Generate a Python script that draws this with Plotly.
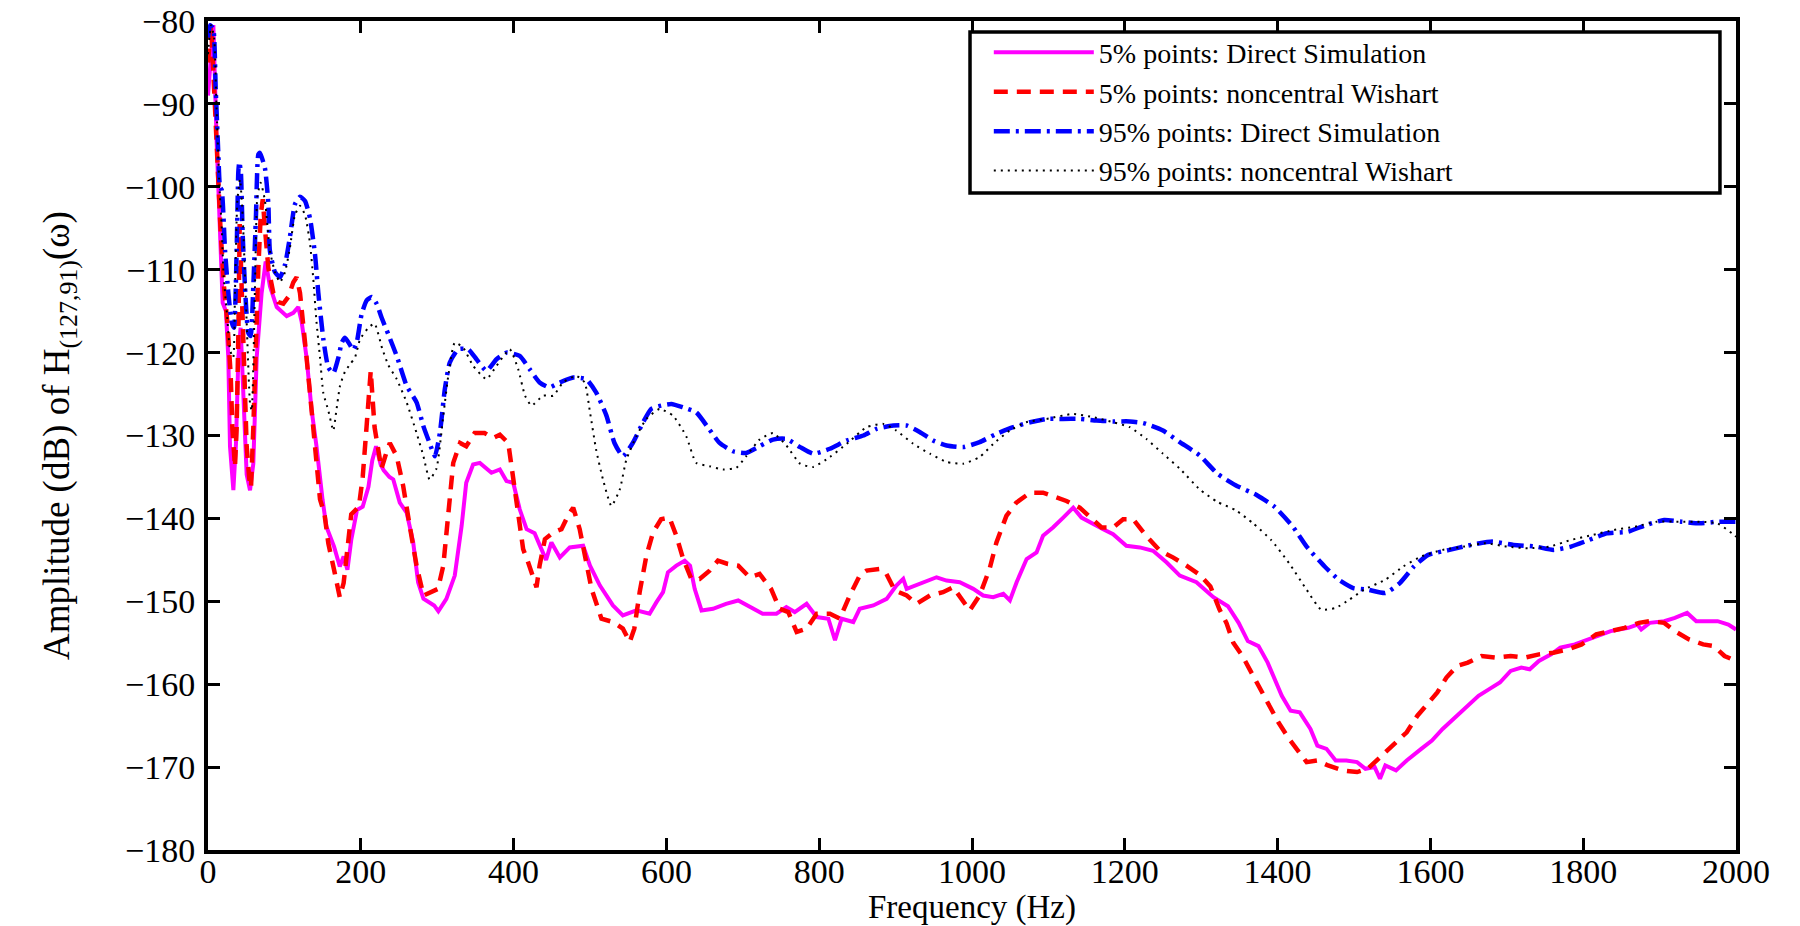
import plotly.graph_objects as go

# ---------------- data ----------------
freq_ds5 = [0, 7, 11.4, 13.5, 16.6, 19.2, 23.5, 26.6, 28.8, 33.2, 36.6, 39.7, 42.7, 46.2, 50.6, 55, 59.3, 63.7,
            70.2, 75.5, 81.1, 90, 103, 111.7, 118.2, 122.6, 129, 135.7, 142, 150, 155, 165, 172.5, 177.5, 182.5,
            187.5, 195, 202.5, 210, 215, 220, 226, 230, 237.5, 242.5, 251, 260, 268.6, 275, 282, 290, 296, 301.5,
            312, 323, 332, 338, 347, 355.8, 371, 382, 390.7, 399.5, 408, 417, 427.5, 435, 442.5, 449.5, 460.5,
            473.5, 491, 500, 513, 530, 543, 560.7, 578, 587, 595.6, 602, 613, 624, 631, 637, 646, 661, 678, 694,
            709, 726, 744, 757, 768, 783.5, 796.7, 812, 820.7, 829.4, 844.6, 853, 870.8, 888.3, 901, 910, 914.5,
            932, 953.6, 966.7, 984, 1001.6, 1014.6, 1027.7, 1041, 1049.6, 1058.4, 1071.5, 1084.5, 1093, 1106,
            1119.4, 1132.5, 1143.3, 1158.6, 1171.7, 1184.7, 1202, 1219.6, 1237, 1254.5, 1272, 1293.8, 1316, 1335,
            1349, 1361, 1375, 1387, 1396, 1405.5, 1417, 1429, 1443, 1452, 1464, 1476, 1490, 1504, 1515, 1527,
            1534, 1541, 1555, 1569, 1588, 1602, 1616, 1635, 1649, 1663, 1677, 1691, 1705, 1719, 1730, 1742, 1758,
            1770, 1789, 1812, 1836, 1859, 1871, 1876, 1887, 1906, 1920, 1936, 1948, 1962, 1976, 1990, 2000]
amp_ds5 = [-89, -80.5, -94.8, -100, -107.7, -114, -115, -120.6, -131.3, -136.6, -131, -120.6, -117, -124.8, -134.7,
           -136.6, -133.4, -120.6, -112.8, -109, -112, -114.5, -115.6, -115.2, -114.5, -116.3, -120.6, -127, -131.3,
           -137.8, -141, -143.4, -145.8, -144.6, -146.2, -142.6, -139, -138.6, -136.2, -133, -131.3, -133.5, -134.2,
           -135, -135.3, -138.1, -139.3, -142.9, -147.7, -149.7, -150.1, -150.5, -151.2, -149.7, -146.9, -140.9,
           -135.7, -133.5, -133.3, -134.5, -134.1, -135.5, -135.7, -138.9, -141.3, -141.8, -143.4, -145, -142.9,
           -144.7, -143.5, -143.3, -145.7, -148.1, -150.5, -151.7, -151.1, -151.5, -150.1, -148.9, -146.5, -145.7,
           -145.1, -145.7, -148.5, -151.1, -150.9, -150.3, -149.9, -150.7, -151.5, -151.5, -150.7, -151.3, -150.3,
           -151.9, -152.1, -154.7, -152.1, -152.5, -150.9, -150.5, -149.7, -148.1, -147.3, -148.5, -147.9, -147.1,
           -147.5, -147.7, -148.5, -149.3, -149.5, -149.1, -149.9, -147.7, -144.9, -144.1, -142.1, -141.1, -139.9,
           -138.7, -139.9, -140.7, -141.3, -141.9, -143.3, -143.5, -143.9, -145.3, -146.9, -147.7, -149.5, -150.6,
           -152.6, -154.8, -155.4, -157.4, -159.4, -161.4, -163.2, -163.4, -165.4, -167.4, -167.8, -169.2, -169.2,
           -169.4, -170.2, -170, -171.4, -169.8, -170.4, -169.2, -167.8, -166.8, -165.4, -163.8, -162.6, -161.4,
           -160.6, -159.8, -158.4, -158, -158.2, -157.2, -156.4, -155.6, -155.2, -154.4, -153.6, -153.2, -152.8,
           -153.4, -152.6, -152.4, -152, -151.4, -152.4, -152.4, -152.4, -152.8, -153.4]

freq_nw5 = [0, 4, 9.2, 13.5, 16.6, 20.9, 25.3, 29.7, 31.9, 35.3, 37.5, 39.7, 41.5, 44, 47, 50.6, 54, 56.3, 59.3,
            62.4, 65.9, 69, 71.7, 74.6, 79, 85.5, 92, 98.6, 105, 111.7, 116, 120.4, 124.7, 129, 133.5, 137.8, 142,
            146.6, 152.5, 157.5, 165, 172.5, 177.5, 182.5, 187.5, 197.5, 202.5, 207.5, 213, 218, 227, 232, 238,
            247, 255.5, 264, 273, 282, 290, 301, 308, 314, 321, 330, 338, 349, 362, 373, 382, 393, 399.5, 406,
            412.5, 419, 425.5, 430, 434, 441, 451.7, 462.6, 471, 478, 486.5, 493, 502, 515, 530, 543, 552, 558,
            565, 573.8, 582.5, 593, 604, 613, 622, 632.6, 643.5, 656.5, 667.4, 680.5, 694, 709, 722, 737, 748,
            759.6, 770.5, 783.5, 796.7, 814, 827, 840, 853, 862, 879.5, 888, 899, 914.5, 927.5, 945, 962, 975.4,
            986, 997, 1010, 1023, 1032, 1045, 1058, 1076, 1093, 1106, 1123.6, 1141, 1156, 1169.5, 1184.7, 1197.8,
            1210.9, 1228, 1246, 1263, 1280.7, 1298, 1312, 1324, 1333, 1342, 1354, 1368, 1377.5, 1389, 1401, 1415,
            1426.6, 1438, 1452, 1466, 1485, 1504, 1518, 1527, 1541, 1555, 1569, 1583, 1597, 1609, 1621, 1635,
            1649, 1667, 1686, 1705, 1723.5, 1742, 1761, 1780, 1798, 1817, 1836, 1854, 1873, 1887, 1906, 1920,
            1938.5, 1957, 1971, 1985, 2000]
amp_nw5 = [-85, -80.5, -90.5, -100, -105.5, -112, -116.3, -122.7, -129.1, -133.8, -129.1, -118, -104.5, -112,
           -120.6, -131.3, -135.2, -136.3, -129.1, -118.4, -109.8, -103.4, -101.5, -105.1, -109.8, -112.8, -113.9,
           -114.1, -113.3, -111.5, -110.9, -112.8, -116.3, -120.6, -124.9, -129.1, -133.4, -137.7, -139.5, -143,
           -146.2, -149.5, -147.8, -143, -139.5, -138.6, -135, -129, -122.2, -129, -134, -132.5, -130.9, -132.5,
           -136.1, -140.9, -145.7, -149.3, -148.9, -148.5, -145.7, -139.7, -133.3, -130.9, -131.3, -129.7, -129.7,
           -130.3, -129.9, -130.9, -134.9, -139.7, -143.7, -145.3, -146.9, -148.3, -145.7, -142.5, -141.7, -141.3,
           -139.7, -138.7, -141.3, -144.5, -148.5, -152.1, -152.5, -153.3, -154.9, -153.3, -148.9, -144.5, -141.7,
           -140.1, -139.9, -142.1, -144.9, -147.3, -147.3, -146.3, -145.1, -145.5, -145.7, -147.1, -146.7, -148.5,
           -150.9, -151.3, -153.7, -153.3, -151.5, -151.5, -152.1, -149.3, -146.9, -146.3, -146.1, -146.7, -148.7,
           -149.3, -150.3, -149.3, -148.9, -148.3, -149.7, -151.1, -149.3, -146.1, -142.9, -139.7, -138.1, -136.9,
           -136.9, -137.3, -137.9, -138.7, -139.9, -141.1, -141.1, -140.1, -140.1, -142.1, -143.9, -144.7, -145.7,
           -146.8, -148.2, -151, -152.6, -155, -156.6, -159, -160.6, -162.6, -164.6, -166.6, -168, -169.4, -169.2,
           -169.8, -170.4, -170.6, -170.2, -169.4, -168.2, -167, -165.8, -163.8, -162.2, -161, -159.2, -157.8,
           -157.4, -156.6, -156.8, -156.6, -156.8, -156.4, -156.2, -155.8, -155.2, -154, -153.6, -153.2, -152.6,
           -152.4, -152.6, -153.6, -154.6, -155.2, -155.4, -156.6, -157.2]

freq_ds95 = [0, 3, 7, 10, 13.5, 15.7, 18, 22.3, 26.6, 31, 34, 37.5, 39.7, 41, 43, 45.3, 48.4, 52.7, 55.8, 59.3,
             62.8, 65.9, 68, 74.6, 79, 81, 87.7, 94.2, 100.8, 107.3, 113.8, 120.4, 127, 133.5, 140, 144.4, 151,
             157.5, 164, 170.7, 175, 179.3, 186, 190, 194.6, 201, 207.7, 214.2, 220.7, 227.3, 236, 247, 260, 273,
             282, 290, 297, 303.5, 310, 316.5, 327.5, 340.5, 351.4, 364.5, 377.6, 390.7, 408, 421, 434, 447, 460.5,
             478, 495, 508, 521.5, 532, 543, 556, 569, 580, 593, 606.5, 621.5, 639, 656.5, 669.6, 687, 704.5, 722,
             739.5, 757, 775, 792.3, 814, 836, 858, 875, 897, 914.5, 932, 949, 966.7, 988.5, 1010, 1032, 1054,
             1076, 1097.5, 1119, 1141, 1163, 1185, 1206.6, 1224, 1250, 1272, 1298, 1321, 1345, 1373, 1396, 1420,
             1438, 1461.6, 1480, 1499, 1518, 1541, 1560, 1578.5, 1597, 1625, 1653, 1681, 1709, 1737.5, 1761, 1784,
             1807.6, 1831, 1859, 1882, 1906, 1929, 1952.5, 1976, 2000]
amp_ds95 = [-82, -80.5, -81, -88, -96, -100, -100.4, -107.7, -112.8, -116.3, -117, -107.7, -98.2, -97, -98.2,
            -105.5, -112, -117.6, -118, -112, -103.4, -96.1, -95.9, -97.8, -102.1, -107.7, -110.3, -110.9, -109.4,
            -106, -102.1, -101.2, -101.7, -103.8, -108.1, -112.8, -118.4, -121.8, -122.5, -120.6, -118.8, -118.2,
            -119.1, -119.7, -118.8, -115.4, -113.7, -113.3, -114.1, -115.8, -117.8, -120.4, -124, -126, -128.9,
            -130.9, -132.5, -129.7, -124.4, -121.2, -119.6, -119.6, -120.8, -122.2, -120.8, -120, -120.4, -122,
            -123.6, -124.2, -123.6, -123, -123.2, -124.8, -127.6, -130.9, -132.5, -130.9, -128.5, -126.8, -126.4,
            -126.2, -126.6, -127.2, -129.3, -130.9, -131.9, -132.1, -131.3, -130.5, -130.4, -131.4, -132.2, -131.6,
            -130.6, -130, -129.2, -128.8, -128.8, -129.6, -130.6, -131.2, -131.4, -130.8, -129.8, -129, -128.4,
            -128, -128, -128, -128.2, -128.3, -128.3, -128.5, -129.4, -130.8, -132.4, -134.6, -136, -137.2, -138.6,
            -141, -143.4, -145.8, -147.4, -148.4, -148.6, -149, -147.8, -145.8, -144.4, -143.8, -143.2, -142.8,
            -143.2, -143.4, -143.8, -143.4, -142.6, -141.8, -141.6, -140.8, -140.2, -140.4, -140.6, -140.4, -140.4]

freq_nw95 = [0, 4, 8, 11, 15, 18, 20.4, 24.9, 28.8, 33, 35.3, 38.4, 41.9, 45.3, 50.6, 55, 57.2, 61.5, 64.6, 69,
             74.6, 81, 87.7, 94.2, 100.8, 107.3, 113.8, 120.4, 127, 133.5, 137.8, 142, 146.6, 151, 157.5, 164, 168,
             172.8, 179.3, 186, 192.4, 199, 210, 218, 228, 236, 247, 260, 273, 282, 290, 299, 308, 314.5, 323, 334,
             347, 364.5, 377.6, 395, 406, 415, 423.5, 438.6, 451.7, 464.8, 482, 493, 500, 508, 517, 528, 539,
             547.6, 560.7, 573.8, 591, 608.6, 626, 639, 656.5, 674, 691.4, 704.5, 722, 739.5, 757, 775, 792, 814,
             836, 862, 884, 901, 923, 945, 967, 988.5, 1010, 1028, 1049.5, 1071, 1097.5, 1132, 1159, 1185, 1206.6,
             1228, 1250, 1272, 1298, 1321, 1345, 1368, 1391.5, 1415, 1438, 1457, 1476, 1494, 1513, 1541, 1564.5,
             1588, 1616, 1644, 1672, 1700, 1728, 1756, 1784, 1812, 1840, 1868, 1896, 1924.5, 1952.5, 1976, 1994.6,
             2000]
amp_nw95 = [-84, -80.5, -82, -90, -100, -105, -110.7, -115.4, -119.7, -120.6, -112.8, -101.7, -99.1, -103.4,
            -116.3, -126.1, -127, -112, -101.2, -99.5, -101.7, -107.7, -110.3, -111.5, -110.3, -107.3, -103.4,
            -102.3, -103.4, -106.8, -111.1, -116.3, -120.6, -124.9, -127, -129.4, -127, -124, -122.3, -121.4,
            -120.6, -118.4, -117, -116.5, -119.5, -121.5, -123.2, -126, -129.7, -132.5, -135.3, -134, -127.6,
            -122.8, -118.8, -119.4, -121.6, -123.2, -121.6, -119.6, -122, -125.2, -126.4, -125.2, -125.2, -123.6,
            -122.8, -123.6, -127.2, -131.7, -135.3, -138.5, -136.5, -132.9, -130.1, -128, -126.8, -127.6, -130.1,
            -133.3, -133.7, -134.1, -133.9, -132.5, -130.5, -129.7, -131.2, -133.4, -133.8, -132.6, -131, -129,
            -128.6, -129.4, -131, -132.2, -133.2, -133.4, -132.6, -131, -129.4, -128.4, -128, -127.4, -127.8,
            -128.4, -129, -130.4, -132.2, -134, -136.5, -138, -139, -140.6, -142.6, -145.4, -148.6, -151, -150.8,
            -149.8, -148.6, -147.4, -145.8, -144.6, -143.8, -143.4, -143, -143.4, -143.6, -143.4, -142.6, -142,
            -141.4, -141, -140.4, -140.4, -140.4, -140.6, -141.8, -142.2]

series_names = ["5% points: Direct Simulation", "5% points: noncentral Wishart",
                "95% points: Direct Simulation", "95% points: noncentral Wishart"]
x_ticks = [0, 200, 400, 600, 800, 1000, 1200, 1400, 1600, 1800, 2000]
y_ticks = [-180, -170, -160, -150, -140, -130, -120, -110, -100, -90, -80]

# ---------------- figure ----------------
FONT = "Liberation Serif"
fig = go.Figure()
fig.add_trace(go.Scatter(x=freq_ds5, y=amp_ds5, mode="lines", name=series_names[0],
                         line=dict(color="#FF00FF", width=4)))
fig.add_trace(go.Scatter(x=freq_nw5, y=amp_nw5, mode="lines", name=series_names[1],
                         line=dict(color="#FF0000", width=4.5, dash="14px,9px")))
fig.add_trace(go.Scatter(x=freq_ds95, y=amp_ds95, mode="lines", name=series_names[2],
                         line=dict(color="#0000FF", width=4.5, dash="16px,6px,3px,6px",
                                   shape="spline", smoothing=0.5)))
fig.add_trace(go.Scatter(x=freq_nw95, y=amp_nw95, mode="lines", name=series_names[3],
                         line=dict(color="#000000", width=2, dash="2px,5px",
                                   shape="spline", smoothing=0.5)))

# legend frame
fig.add_shape(type="rect", xref="paper", yref="paper", x0=0.4987, x1=0.9895, y0=0.7925, y1=0.9867,
              fillcolor="white", line=dict(color="black", width=3.5), layer="above")

axis_common = dict(showline=True, linecolor="black", linewidth=4, mirror="ticks", ticks="inside",
                   ticklen=12, tickwidth=3, tickcolor="black", showgrid=False, zeroline=False,
                   automargin=False, ticklabeloverflow="allow",
                   tickfont=dict(family=FONT, size=34, color="black"))

fig.update_layout(
    width=1800, height=926,
    margin=dict(l=208, r=64, t=21, b=76),
    paper_bgcolor="white", plot_bgcolor="white",
    font=dict(family=FONT, color="black"),
    xaxis=dict(range=[0, 2000], tickvals=x_ticks, ticklabelstandoff=-12,
               title=dict(text="Frequency (Hz)", font=dict(family=FONT, size=33), standoff=0),
               **axis_common),
    yaxis=dict(range=[-180, -80], tickvals=y_ticks, ticklabelstandoff=2,
               title=dict(text="Amplitude (dB) of H<sub>(127,91)</sub>(ω)",
                          font=dict(family=FONT, size=37), standoff=45),
               **axis_common),
    legend=dict(x=0.511, y=0.992, xanchor="left", yanchor="top", bgcolor="rgba(0,0,0,0)",
                borderwidth=0, font=dict(family=FONT, size=28, color="black"),
                itemwidth=100, tracegroupgap=0),
    showlegend=True,
)

fig.write_html("out.html", config={"displayModeBar": False},
               post_script="document.body.style.margin='0';document.body.style.overflow='hidden';")
